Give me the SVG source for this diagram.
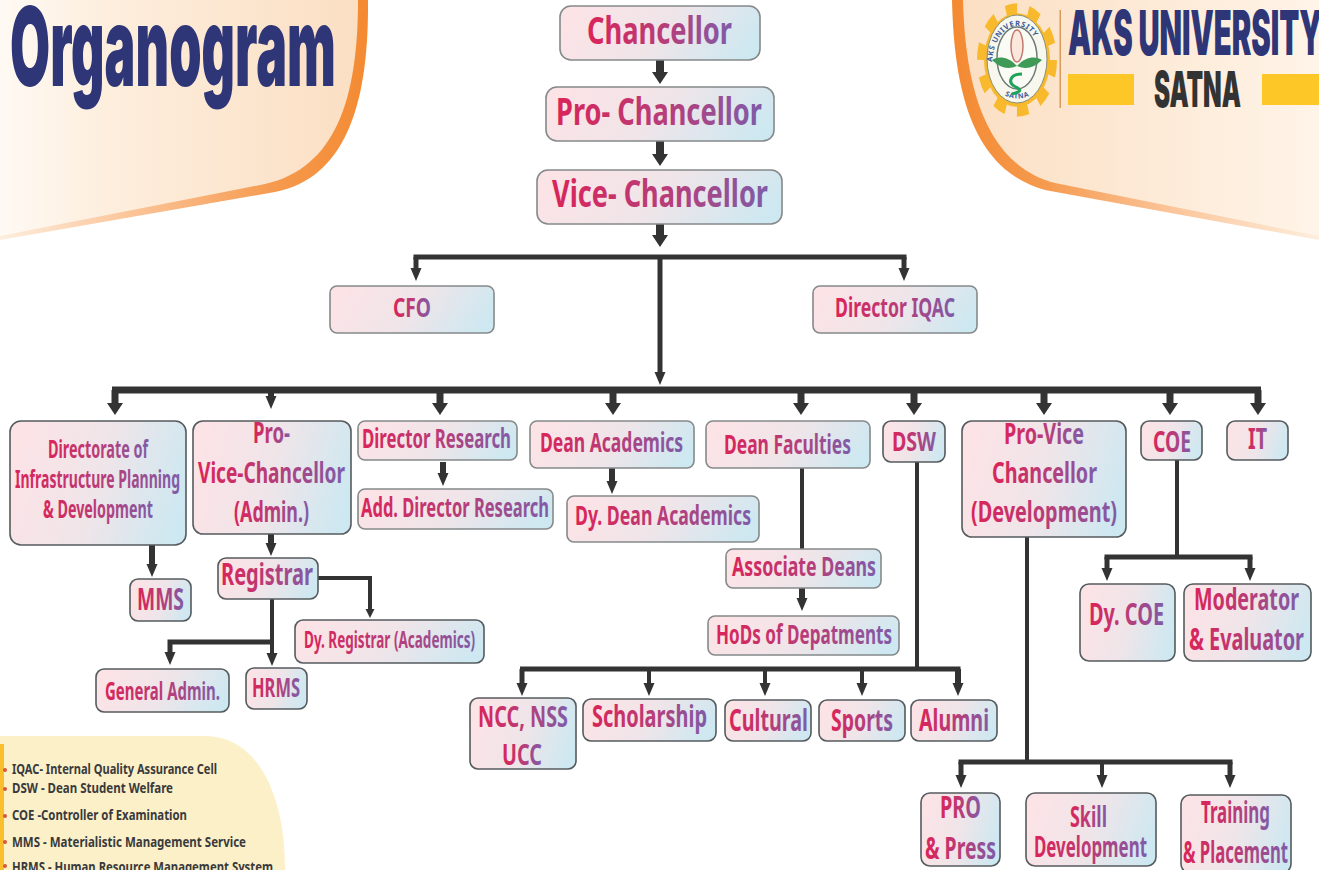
<svg xmlns="http://www.w3.org/2000/svg" width="1319" height="870" viewBox="0 0 1319 870">
<style>
text{font-family:"Noto Sans","Open Sans","Liberation Sans",sans-serif;font-weight:700}
.b{fill:url(#boxG);stroke:#555b5e;stroke-width:1.6}
.g{stroke:#85898a}
.t{fill:url(#txtG)}
.c{fill:none;stroke:#333;stroke-linejoin:miter}
.w8{stroke-width:8}.w7{stroke-width:7}.w6{stroke-width:6}.w5{stroke-width:5}.w4{stroke-width:4}
.ah{marker-end:url(#hl)}.am{marker-end:url(#hm)}.as{marker-end:url(#hs)}
.h{font-family:Inter,"Liberation Sans",Arial,sans-serif;font-weight:900;stroke-linejoin:round}
.l{fill:#3a3a3c;font-size:15px}
.d{fill:#d9573c}
</style>
<defs>
<linearGradient id="boxG" x1="0" y1="0.4" x2="1" y2="0.6"><stop offset="0" stop-color="#fce3e6"/><stop offset="0.5" stop-color="#efe5e9"/><stop offset="1" stop-color="#cde8f1"/></linearGradient>
<linearGradient id="txtG" x1="0" y1="0" x2="1" y2="0"><stop offset="0" stop-color="#da2459"/><stop offset="0.55" stop-color="#b63e7a"/><stop offset="1" stop-color="#7f5ca8"/></linearGradient>
<linearGradient id="lp" x1="0" y1="0" x2="1" y2="0"><stop offset="0" stop-color="#fffaf4"/><stop offset="0.3" stop-color="#fdeedd"/><stop offset="1" stop-color="#fbdfc3"/></linearGradient>
<linearGradient id="lo" x1="0" y1="0" x2="1" y2="0"><stop offset="0" stop-color="#fdeedd"/><stop offset="0.35" stop-color="#fbc59a"/><stop offset="0.75" stop-color="#f59a4e"/><stop offset="1" stop-color="#f48a32"/></linearGradient>
<linearGradient id="rp" x1="1" y1="0" x2="0" y2="0"><stop offset="0" stop-color="#fff4e8"/><stop offset="1" stop-color="#fbdfc3"/></linearGradient>
<linearGradient id="ro" x1="1" y1="0" x2="0" y2="0"><stop offset="0" stop-color="#fdeedd"/><stop offset="0.4" stop-color="#fbc59a"/><stop offset="0.75" stop-color="#f59a4e"/><stop offset="1" stop-color="#f48a32"/></linearGradient>
<marker id="hl" markerUnits="userSpaceOnUse" markerWidth="14" markerHeight="18" refX="1" refY="8" orient="auto"><path d="M0 0L12 8L0 16z" fill="#333"/></marker>
<marker id="hm" markerUnits="userSpaceOnUse" markerWidth="15" markerHeight="13" refX="1" refY="5.5" orient="auto"><path d="M0 0L13 5.500L0 11z" fill="#333"/></marker>
<marker id="hs" markerUnits="userSpaceOnUse" markerWidth="11" markerHeight="10" refX="1" refY="4.5" orient="auto"><path d="M0 0L9 4.500L0 9z" fill="#333"/></marker>
</defs>
<rect width="1319" height="870" fill="#fff"/>

<g id="header-left">
<path d="M0 0H368C369 105 345 178 275 192L0 240Z" fill="url(#lo)"/>
<path d="M0 0H358C358 100 335 168 265 184L0 236Z" fill="url(#lp)"/>
<text class="h" x="10" y="86" font-size="110" textLength="326" lengthAdjust="spacingAndGlyphs" fill="#2e3678">Organogram</text>
</g>

<g id="header-right">
<path d="M952 0C954 90 972 170 1045 190L1319 240V0Z" fill="url(#ro)"/>
<path d="M963 0C965 85 985 165 1055 183L1319 236V0Z" fill="url(#rp)"/>
<g id="logo">
<g transform="translate(1017 60) scale(1 1.42)">
<circle r="33" fill="#f8b92c"/>
<circle r="36" fill="none" stroke="#f8b92c" stroke-width="8" stroke-dasharray="11.3 11.3"/>
</g>
<ellipse cx="1017" cy="59" rx="30" ry="44" fill="#f7f7ee" stroke="#8a8f7a"/>
<ellipse cx="1017" cy="58" rx="20" ry="31" fill="#fbfbf5" stroke="#6d7a78" stroke-width="1.5"/>
<path id="lt" d="M992 66A25 40 0 0 1 1042 66" fill="none"/>
<text font-size="7.5" fill="#3a5c9a" letter-spacing=".6"><textPath href="#lt" startOffset="4">AKS UNIVERSITY</textPath></text>
<path id="lb" d="M1002 94Q1017 103 1033 94" fill="none"/>
<text font-size="7" fill="#3a5c9a" letter-spacing=".6"><textPath href="#lb" startOffset="3">SATNA</textPath></text>
<ellipse cx="1017" cy="46" rx="6" ry="16" fill="#fbe7dc" stroke="#c07a70" stroke-width="1.5"/>
<path d="M1017 66C1008 56 998 56 992 60C1000 68 1008 70 1017 66C1026 56 1036 56 1042 60C1034 68 1026 70 1017 66Z" fill="#3f9a55"/>
<path d="M1022 74C1010 74 1008 82 1014 86C1020 89 1024 91 1012 94" fill="none" stroke="#1fa35a" stroke-width="3"/>
</g>
<rect x="1059.500" y="10" width="1.500" height="98" fill="#d99a5c"/>
<text class="h" x="1068" y="55" font-size="62" textLength="254" lengthAdjust="spacingAndGlyphs" fill="#2e3678">AKS UNIVERSITY</text>
<rect x="1068" y="74" width="66" height="31" fill="#fdc827"/>
<text class="h" x="1154" y="107" font-size="50" textLength="87" lengthAdjust="spacingAndGlyphs" fill="#333">SATNA</text>
<rect x="1262" y="74" width="57" height="31" fill="#fdc827"/>
</g>

<g id="legend">
<path d="M0 736H205C255 736 285 790 285 870H0Z" fill="#fbf0c8"/>
<rect x="0" y="744" width="4" height="126" fill="#f9bf2c"/>
<circle class="d" cx="5" cy="770" r="2"/><circle class="d" cx="5" cy="789" r="2"/><circle class="d" cx="5" cy="816" r="2"/><circle class="d" cx="5" cy="842" r="2"/><circle class="d" cx="5" cy="866" r="2"/>
<text class="l" x="12" y="774" textLength="205" lengthAdjust="spacingAndGlyphs">IQAC- Internal Quality Assurance Cell</text>
<text class="l" x="12" y="793" textLength="161" lengthAdjust="spacingAndGlyphs">DSW - Dean Student Welfare</text>
<text class="l" x="12" y="820" textLength="175" lengthAdjust="spacingAndGlyphs">COE -Controller of Examination</text>
<text class="l" x="12" y="847" textLength="234" lengthAdjust="spacingAndGlyphs">MMS - Materialistic Management Service</text>
<text class="l" x="12" y="872" textLength="261" lengthAdjust="spacingAndGlyphs">HRMS - Human Resource Management System</text>
</g>

<g id="connectors">
<path class="c w8 ah" d="M660 60V73"/>
<path class="c w8 ah" d="M660 141V155"/>
<path class="c w8 ah" d="M660 224V236"/>
<path class="c w5 am" d="M660 257V373"/>
<path class="c w5" d="M416 259.500V257H904V259.500"/>
<path class="c w5 am" d="M416 257V269"/>
<path class="c w5 am" d="M904 257V269"/>
<path class="c w7" d="M112 390H1261"/>
<path class="c w7 ah" d="M115 390V404"/>
<path class="c w6 am" d="M271 390V397"/>
<path class="c w7 ah" d="M440 390V404"/>
<path class="c w7 ah" d="M613 390V404"/>
<path class="c w7 ah" d="M801 390V404"/>
<path class="c w7 ah" d="M914 390V404"/>
<path class="c w7 ah" d="M1044 390V404"/>
<path class="c w7 ah" d="M1170 390V404"/>
<path class="c w7 ah" d="M1258 390V404"/>
<path class="c w6 am" d="M152 545V565"/>
<path class="c w6 am" d="M271 534V544"/>
<path class="c w6 am" d="M443 462V474"/>
<path class="c w6 am" d="M612 468V482"/>
<path class="c w4" d="M802 466V551"/>
<path class="c w6 am" d="M802 588V599"/>
<path class="c w4" d="M917 462V669"/>
<path class="c w5" d="M520 669H960.500"/>
<path class="c w5 am" d="M522 669V684"/>
<path class="c w4 am" d="M649 669V684"/>
<path class="c w4 am" d="M765 669V684"/>
<path class="c w4 am" d="M862 669V684"/>
<path class="c w6 am" d="M958 669V684"/>
<path class="c w4 as" d="M318 578H370V610"/>
<path class="c w4 am" d="M272 599V654"/>
<path class="c w5 am" d="M272 642H170V653"/>
<path class="c w4" d="M1177 460V557"/>
<path class="c w5" d="M1104.500 557H1252.500"/>
<path class="c w5 am" d="M1107 557V569"/>
<path class="c w5 am" d="M1250 557V569"/>
<path class="c w4" d="M1027 537V762"/>
<path class="c w5" d="M958.500 762H1232.500"/>
<path class="c w5 am" d="M961 762V776"/>
<path class="c w4 am" d="M1102 762V776"/>
<path class="c w5 am" d="M1230 762V776"/>
</g>

<g id="n-chancellor"><rect class="b g" x="560" y="6" width="200" height="54" rx="11"/><text class="t" x="587" y="44" font-size="38" textLength="145" lengthAdjust="spacingAndGlyphs">Chancellor</text></g>
<g id="n-pro-chancellor"><rect class="b g" x="546" y="87" width="228" height="54" rx="11"/><text class="t" x="556" y="125" font-size="38" textLength="206" lengthAdjust="spacingAndGlyphs">Pro- Chancellor</text></g>
<g id="n-vice-chancellor"><rect class="b g" x="537" y="170" width="245" height="54" rx="11"/><text class="t" x="552" y="207" font-size="38" textLength="216" lengthAdjust="spacingAndGlyphs">Vice- Chancellor</text></g>
<g id="n-cfo"><rect class="b g" x="330" y="286" width="164" height="47" rx="7"/><text class="t" x="393" y="317" font-size="26" textLength="38" lengthAdjust="spacingAndGlyphs">CFO</text></g>
<g id="n-iqac"><rect class="b g" x="813" y="286" width="164" height="47" rx="7"/><text class="t" x="835" y="317" font-size="26" textLength="120" lengthAdjust="spacingAndGlyphs">Director IQAC</text></g>
<g id="n-directorate"><rect class="b" x="10" y="421" width="176" height="124" rx="11"/><text class="t" x="48" y="458" font-size="25" textLength="100" lengthAdjust="spacingAndGlyphs">Directorate of</text><text class="t" x="15" y="488" font-size="25" textLength="165" lengthAdjust="spacingAndGlyphs">Infrastructure Planning</text><text class="t" x="43" y="518" font-size="25" textLength="110" lengthAdjust="spacingAndGlyphs">&amp; Development</text></g>
<g id="n-pvc-admin"><rect class="b" x="193" y="421" width="158" height="113" rx="10"/><text class="t" x="253" y="443" font-size="29" textLength="37" lengthAdjust="spacingAndGlyphs">Pro-</text><text class="t" x="198" y="483" font-size="29" textLength="147" lengthAdjust="spacingAndGlyphs">Vice-Chancellor</text><text class="t" x="234" y="522" font-size="29" textLength="75" lengthAdjust="spacingAndGlyphs">(Admin.)</text></g>
<g id="n-dir-research"><rect class="b g" x="358" y="421" width="159" height="39" rx="7"/><text class="t" x="362" y="448" font-size="26" textLength="149" lengthAdjust="spacingAndGlyphs">Director Research</text></g>
<g id="n-add-research"><rect class="b g" x="358" y="489" width="195" height="40" rx="7"/><text class="t" x="361" y="517" font-size="26" textLength="188" lengthAdjust="spacingAndGlyphs">Add. Director Research</text></g>
<g id="n-dean-acad"><rect class="b g" x="530" y="421" width="164" height="47" rx="7"/><text class="t" x="540" y="452" font-size="26" textLength="143" lengthAdjust="spacingAndGlyphs">Dean Academics</text></g>
<g id="n-dy-dean"><rect class="b g" x="567" y="496" width="192" height="46" rx="7"/><text class="t" x="575" y="525" font-size="26" textLength="176" lengthAdjust="spacingAndGlyphs">Dy. Dean Academics</text></g>
<g id="n-dean-fac"><rect class="b g" x="706" y="421" width="164" height="47" rx="7"/><text class="t" x="724" y="454" font-size="26" textLength="127" lengthAdjust="spacingAndGlyphs">Dean Faculties</text></g>
<g id="n-dsw"><rect class="b" x="883" y="421" width="62" height="41" rx="8"/><text class="t" x="892" y="451" font-size="27" textLength="44" lengthAdjust="spacingAndGlyphs">DSW</text></g>
<g id="n-pvc-dev"><rect class="b" x="962" y="421" width="164" height="116" rx="10"/><text class="t" x="1004" y="444" font-size="29" textLength="80" lengthAdjust="spacingAndGlyphs">Pro-Vice</text><text class="t" x="992" y="483" font-size="29" textLength="105" lengthAdjust="spacingAndGlyphs">Chancellor</text><text class="t" x="971" y="522" font-size="29" textLength="146" lengthAdjust="spacingAndGlyphs">(Development)</text></g>
<g id="n-coe"><rect class="b" x="1141" y="421" width="61" height="39" rx="8"/><text class="t" x="1153" y="452" font-size="29" textLength="38" lengthAdjust="spacingAndGlyphs">COE</text></g>
<g id="n-it"><rect class="b" x="1227" y="421" width="61" height="39" rx="8"/><text class="t" x="1248" y="449" font-size="29" textLength="19" lengthAdjust="spacingAndGlyphs">IT</text></g>
<g id="n-mms"><rect class="b" x="130" y="579" width="61" height="42" rx="8"/><text class="t" x="137" y="610" font-size="31" textLength="47" lengthAdjust="spacingAndGlyphs">MMS</text></g>
<g id="n-registrar"><rect class="b" x="218" y="558" width="100" height="41" rx="8"/><text class="t" x="221" y="585" font-size="31" textLength="92" lengthAdjust="spacingAndGlyphs">Registrar</text></g>
<g id="n-dy-registrar"><rect class="b" x="295" y="620" width="189" height="43" rx="8"/><text class="t" x="304" y="648" font-size="24" textLength="171" lengthAdjust="spacingAndGlyphs">Dy. Registrar (Academics)</text></g>
<g id="n-general"><rect class="b" x="96" y="669" width="133" height="43" rx="8"/><text class="t" x="105" y="700" font-size="25" textLength="115" lengthAdjust="spacingAndGlyphs">General Admin.</text></g>
<g id="n-hrms"><rect class="b" x="246" y="668" width="61" height="41" rx="8"/><text class="t" x="252" y="697" font-size="26" textLength="48" lengthAdjust="spacingAndGlyphs">HRMS</text></g>
<g id="n-assoc"><rect class="b g" x="726" y="549" width="155" height="39" rx="7"/><text class="t" x="732" y="576" font-size="26" textLength="144" lengthAdjust="spacingAndGlyphs">Associate Deans</text></g>
<g id="n-hods"><rect class="b g" x="708" y="616" width="191" height="39" rx="7"/><text class="t" x="716" y="644" font-size="26" textLength="176" lengthAdjust="spacingAndGlyphs">HoDs of Depatments</text></g>
<g id="n-ncc"><rect class="b" x="470" y="698" width="106" height="71" rx="8"/><text class="t" x="478" y="727" font-size="29" textLength="90" lengthAdjust="spacingAndGlyphs">NCC, NSS</text><text class="t" x="502" y="765" font-size="29" textLength="40" lengthAdjust="spacingAndGlyphs">UCC</text></g>
<g id="n-scholarship"><rect class="b" x="583" y="699" width="133" height="42" rx="8"/><text class="t" x="592" y="727" font-size="30" textLength="115" lengthAdjust="spacingAndGlyphs">Scholarship</text></g>
<g id="n-cultural"><rect class="b" x="725" y="700" width="86" height="41" rx="8"/><text class="t" x="729" y="731" font-size="30" textLength="79" lengthAdjust="spacingAndGlyphs">Cultural</text></g>
<g id="n-sports"><rect class="b" x="819" y="700" width="86" height="41" rx="8"/><text class="t" x="831" y="731" font-size="30" textLength="62" lengthAdjust="spacingAndGlyphs">Sports</text></g>
<g id="n-alumni"><rect class="b" x="911" y="700" width="86" height="41" rx="8"/><text class="t" x="919" y="731" font-size="30" textLength="70" lengthAdjust="spacingAndGlyphs">Alumni</text></g>
<g id="n-dy-coe"><rect class="b" x="1080" y="584" width="95" height="77" rx="9"/><text class="t" x="1089" y="625" font-size="31" textLength="75" lengthAdjust="spacingAndGlyphs">Dy. COE</text></g>
<g id="n-moderator"><rect class="b" x="1184" y="584" width="127" height="77" rx="9"/><text class="t" x="1194" y="610" font-size="31" textLength="105" lengthAdjust="spacingAndGlyphs">Moderator</text><text class="t" x="1189" y="650" font-size="31" textLength="115" lengthAdjust="spacingAndGlyphs">&amp; Evaluator</text></g>
<g id="n-pro"><rect class="b" x="921" y="793" width="79" height="73" rx="9"/><text class="t" x="940" y="818" font-size="30" textLength="41" lengthAdjust="spacingAndGlyphs">PRO</text><text class="t" x="925" y="859" font-size="30" textLength="71" lengthAdjust="spacingAndGlyphs">&amp; Press</text></g>
<g id="n-skill"><rect class="b" x="1026" y="793" width="130" height="73" rx="9"/><text class="t" x="1070" y="827" font-size="28" textLength="37" lengthAdjust="spacingAndGlyphs">Skill</text><text class="t" x="1034" y="857" font-size="28" textLength="113" lengthAdjust="spacingAndGlyphs">Development</text></g>
<g id="n-training"><rect class="b" x="1181" y="795" width="110" height="78" rx="9"/><text class="t" x="1201" y="823" font-size="30" textLength="69" lengthAdjust="spacingAndGlyphs">Training</text><text class="t" x="1183" y="863" font-size="30" textLength="105" lengthAdjust="spacingAndGlyphs">&amp; Placement</text></g>
</svg>
